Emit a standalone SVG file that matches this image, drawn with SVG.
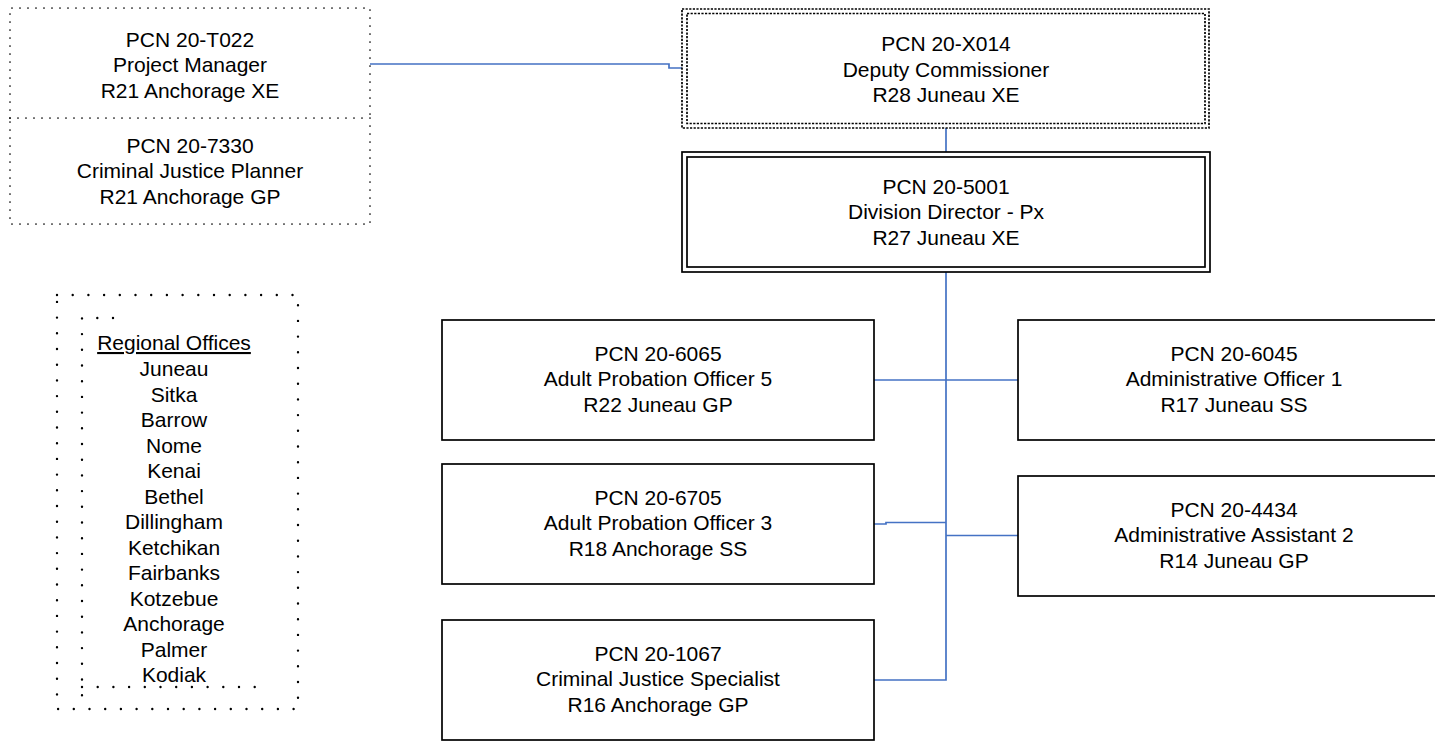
<svg xmlns="http://www.w3.org/2000/svg" width="1435" height="741" viewBox="0 0 1435 741">
<style>
text{font-family:"Liberation Sans",Arial,sans-serif;font-size:21px;fill:#000;text-anchor:middle}
.box{fill:#fff;stroke:#000;stroke-width:1.7}
.dot8{fill:none;stroke:#000;stroke-width:1.7;stroke-dasharray:0 8;stroke-linecap:round}
.dot16{fill:none;stroke:#000;stroke-width:2.4;stroke-dasharray:0 15.7;stroke-linecap:round}
.dash{fill:none;stroke:#000;stroke-width:1.7;stroke-dasharray:2.2 1.4}
.con{fill:none;stroke:#4472C4;stroke-width:1.7}
</style>
<rect width="1435" height="741" fill="#fff"/>
<g id="connectors">
<path class="con" d="M370,64 H669 V68 H682"/>
<path class="con" d="M946,128 V152"/>
<path class="con" d="M946,272 V680 H874"/>
<path class="con" d="M874,380 H1018"/>
<path class="con" d="M874,524 H886 V522.5 H946"/>
<path class="con" d="M946,535.5 H1018"/>
</g>
<g id="node-t022">
<path class="dot8" d="M10,118 V8 H370 V118"/>
<text x="190" y="46.5">PCN 20-T022</text>
<text x="190" y="72">Project Manager</text>
<text x="190" y="97.5">R21 Anchorage XE</text>
</g>
<g id="node-7330">
<path class="dot8" d="M10,118 H370 V224 H10 Z"/>
<text x="190" y="152.5">PCN 20-7330</text>
<text x="190" y="178">Criminal Justice Planner</text>
<text x="190" y="203.5">R21 Anchorage GP</text>
</g>
<g id="node-x014">
<rect class="dash" x="682" y="9" width="527" height="119"/>
<rect class="dash" x="687" y="13.5" width="518" height="110"/>
<text x="946" y="51">PCN 20-X014</text>
<text x="946" y="76.5">Deputy Commissioner</text>
<text x="946" y="102">R28 Juneau XE</text>
</g>
<g id="node-5001">
<rect class="box" x="682" y="152" width="528" height="120"/>
<rect class="box" x="687" y="157" width="518" height="110"/>
<text x="946" y="193.5">PCN 20-5001</text>
<text x="946" y="219">Division Director - Px</text>
<text x="946" y="244.5">R27 Juneau XE</text>
</g>
<g id="node-6065">
<rect class="box" x="442" y="320" width="432" height="120"/>
<text x="658" y="360.5">PCN 20-6065</text>
<text x="658" y="386">Adult Probation Officer 5</text>
<text x="658" y="411.5">R22 Juneau GP</text>
</g>
<g id="node-6045">
<rect class="box" x="1018" y="320" width="432" height="120"/>
<text x="1234" y="360.5">PCN 20-6045</text>
<text x="1234" y="386">Administrative Officer 1</text>
<text x="1234" y="411.5">R17 Juneau SS</text>
</g>
<g id="node-6705">
<rect class="box" x="442" y="464" width="432" height="120"/>
<text x="658" y="504.5">PCN 20-6705</text>
<text x="658" y="530">Adult Probation Officer 3</text>
<text x="658" y="555.5">R18 Anchorage SS</text>
</g>
<g id="node-4434">
<rect class="box" x="1018" y="476" width="432" height="120"/>
<text x="1234" y="516.5">PCN 20-4434</text>
<text x="1234" y="542">Administrative Assistant 2</text>
<text x="1234" y="567.5">R14 Juneau GP</text>
</g>
<g id="node-1067">
<rect class="box" x="442" y="620" width="432" height="120"/>
<text x="658" y="660.5">PCN 20-1067</text>
<text x="658" y="686">Criminal Justice Specialist</text>
<text x="658" y="711.5">R16 Anchorage GP</text>
</g>
<g id="regional-offices">
<rect class="dot16" x="57" y="295" width="241" height="414"/>
<path class="dot16" d="M113,318 H82 V704"/>
<path class="dot16" d="M82,687 H262"/>
<text x="174" y="350" text-decoration="underline">Regional Offices</text>
<text x="174" y="376">Juneau</text>
<text x="174" y="401.5">Sitka</text>
<text x="174" y="427">Barrow</text>
<text x="174" y="452.5">Nome</text>
<text x="174" y="478">Kenai</text>
<text x="174" y="503.5">Bethel</text>
<text x="174" y="529">Dillingham</text>
<text x="174" y="554.5">Ketchikan</text>
<text x="174" y="580">Fairbanks</text>
<text x="174" y="605.5">Kotzebue</text>
<text x="174" y="631">Anchorage</text>
<text x="174" y="656.5">Palmer</text>
<text x="174" y="682">Kodiak</text>
</g>
</svg>
